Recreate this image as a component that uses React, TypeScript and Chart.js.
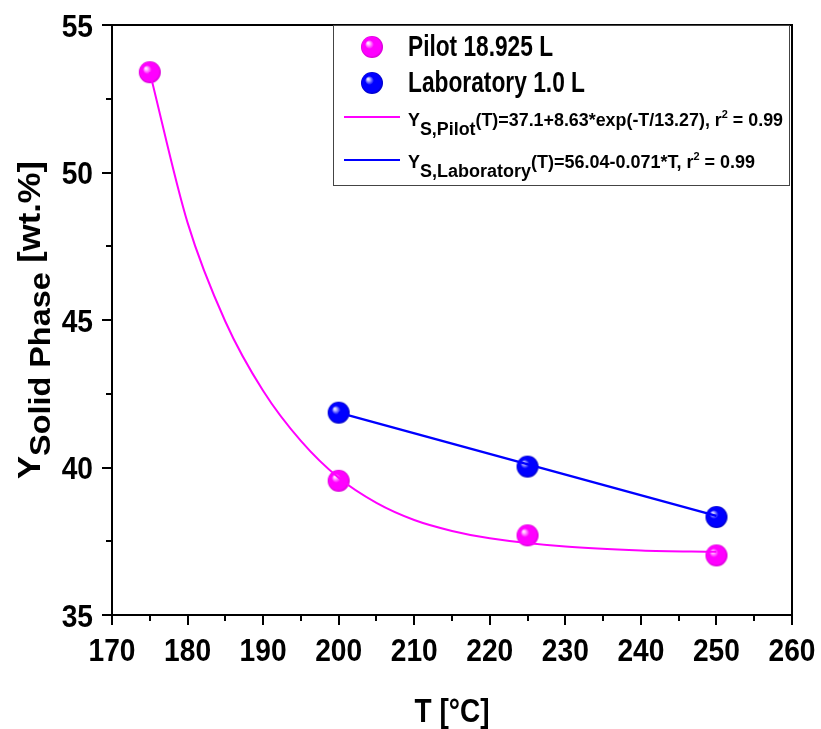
import React, { useEffect, useRef } from "react";
import { Chart, registerables } from "chart.js";

Chart.register(...registerables);

// ---------- data ----------
const pilotT = [175, 200, 225, 250];
const pilotY = [53.4, 39.55, 37.7, 37.02];

const labT = [200, 225, 250];
const labY = [41.86, 40.03, 38.32];

// fitted curve, values
const pilotFitT = [175, 180, 185, 190, 195, 200, 205, 210, 215, 220, 230, 240, 250];
const pilotFitY = [53.4, 48.3, 44.95, 42.6, 40.9, 39.65, 38.8, 38.22, 37.85, 37.6, 37.32, 37.19, 37.14];

const labFitT = [200, 250];
const labFitY = [41.86, 38.36];

const xTicks = [170, 180, 190, 200, 210, 220, 230, 240, 250, 260];
const yTicks = [35, 40, 45, 50, 55];
const xMinor = [175, 185, 195, 205, 215, 225, 235, 245, 255];
const yMinor = [37.5, 42.5, 47.5, 52.5];

const legendPilot = "Pilot 18.925 L";
const legendLab = "Laboratory 1.0 L";
const eqPilot = ["Y", "S,Pilot", "(T)=37.1+8.63*exp(-T/13.27), r", "2", " = 0.99"];
const eqLab = ["Y", "S,Laboratory", "(T)=56.04-0.071*T, r", "2", " = 0.99"];
const xTitle = "T [°C]";
const yTitle = ["Y", "Solid Phase", " [wt.%]"];

const FONT = "'Liberation Sans', Arial, sans-serif";
const MAGENTA = "#ff00ff";
const BLUE = "#0000ff";

function makeSphere(r: number, base: string, dark: string, light: string) {
  const c = document.createElement("canvas");
  const s = Math.ceil(2 * r + 2);
  c.width = s;
  c.height = s;
  const ctx = c.getContext("2d")!;
  const cx = s / 2, cy = s / 2;
  const g = ctx.createRadialGradient(cx - 0.38 * r, cy - 0.38 * r, 0, cx, cy, r);
  g.addColorStop(0, "#ffffff");
  g.addColorStop(0.14, light);
  g.addColorStop(0.4, base);
  g.addColorStop(0.85, base);
  g.addColorStop(1, dark);
  ctx.fillStyle = g;
  ctx.beginPath();
  ctx.arc(cx, cy, r, 0, Math.PI * 2);
  ctx.fill();
  return c;
}

type Seg = { t: string; size: number; dy: number };

function richWidth(ctx: CanvasRenderingContext2D, segs: Seg[]) {
  let w = 0;
  for (const s of segs) {
    ctx.font = `bold ${s.size}px ${FONT}`;
    w += ctx.measureText(s.t).width;
  }
  return w;
}

// draws rich text compressed horizontally to fit target width; align: 'left' | 'center' | 'right'
function drawFit(ctx: CanvasRenderingContext2D, segs: Seg[], x: number, y: number, targetW: number, align = "left", sx?: number) {
  const natural = richWidth(ctx, segs);
  const k = sx ?? targetW / natural;
  const w = natural * k;
  let start = x;
  if (align === "center") start = x - w / 2;
  if (align === "right") start = x - w;
  ctx.save();
  ctx.translate(start, y);
  ctx.scale(k, 1);
  ctx.textAlign = "left";
  ctx.textBaseline = "alphabetic";
  let cx = 0;
  for (const s of segs) {
    ctx.font = `bold ${s.size}px ${FONT}`;
    ctx.fillText(s.t, cx, s.dy);
    cx += ctx.measureText(s.t).width;
  }
  ctx.restore();
}

export default function App() {
  const ref = useRef<HTMLCanvasElement | null>(null);

  useEffect(() => {
    document.body.style.margin = "0";
    const canvas = ref.current!;
    const pilotSphere = makeSphere(11, MAGENTA, "#d000d0", "#ffb8ff");
    const labSphere = makeSphere(11, BLUE, "#0000c0", "#b8b8ff");

    const decor = {
      id: "decor",
      afterDraw(chart: any) {
        const ctx: CanvasRenderingContext2D = chart.ctx;
        const a = chart.chartArea;
        const xs = chart.scales.x;
        const ys = chart.scales.y;
        ctx.save();
        // frame top & right
        ctx.strokeStyle = "#000";
        ctx.lineWidth = 2;
        ctx.beginPath();
        ctx.moveTo(a.left - 1, a.top);
        ctx.lineTo(a.right, a.top);
        ctx.lineTo(a.right, a.bottom);
        ctx.stroke();
        // minor ticks
        ctx.beginPath();
        for (const v of xMinor) {
          const px = Math.round(xs.getPixelForValue(v));
          ctx.moveTo(px, a.bottom);
          ctx.lineTo(px, a.bottom + 6);
        }
        for (const v of yMinor) {
          const py = Math.round(ys.getPixelForValue(v));
          ctx.moveTo(a.left, py);
          ctx.lineTo(a.left - 6, py);
        }
        ctx.stroke();

        // tick labels
        ctx.fillStyle = "#000";
        const tickSize = 32;
        ctx.font = `bold ${tickSize}px ${FONT}`;
        const tk = 47 / ctx.measureText("170").width;
        for (const v of xTicks) {
          const px = xs.getPixelForValue(v);
          drawFit(ctx, [{ t: String(v), size: tickSize, dy: 0 }], px, a.bottom + 46, 0, "center", tk);
        }
        for (const v of yTicks) {
          const py = ys.getPixelForValue(v);
          drawFit(ctx, [{ t: String(v), size: tickSize, dy: 0 }], a.left - 19, py + 11.5, 0, "right", tk);
        }

        // legend box
        const lx = 333, ly = 25, lw = 456, lh = 160;
        ctx.fillStyle = "#fff";
        ctx.fillRect(lx, ly, lw, lh);
        ctx.lineWidth = 1;
        ctx.strokeStyle = "#444";
        ctx.strokeRect(lx + 0.5, ly + 0.5, lw, lh);
        ctx.fillStyle = "#000";
        ctx.drawImage(pilotSphere, 372 - pilotSphere.width / 2, 47 - pilotSphere.height / 2);
        ctx.drawImage(labSphere, 372 - labSphere.width / 2, 83 - labSphere.height / 2);
        drawFit(ctx, [{ t: legendPilot, size: 29, dy: 0 }], 408, 56, 145);
        drawFit(ctx, [{ t: legendLab, size: 29, dy: 0 }], 408, 92, 177);
        ctx.lineWidth = 2;
        ctx.strokeStyle = MAGENTA;
        ctx.beginPath();
        ctx.moveTo(344, 117);
        ctx.lineTo(400, 117);
        ctx.stroke();
        ctx.strokeStyle = BLUE;
        ctx.beginPath();
        ctx.moveTo(344, 160);
        ctx.lineTo(400, 160);
        ctx.stroke();
        const eqSegs = (p: string[]): Seg[] => [
          { t: p[0], size: 18, dy: 0 },
          { t: p[1], size: 18, dy: 9 },
          { t: p[2], size: 18, dy: 0 },
          { t: p[3], size: 11, dy: -8 },
          { t: p[4], size: 18, dy: 0 },
        ];
        drawFit(ctx, eqSegs(eqPilot), 408, 126, 375);
        drawFit(ctx, eqSegs(eqLab), 408, 168, 347);

        // x title
        drawFit(ctx, [{ t: xTitle, size: 33, dy: 0 }], (a.left + a.right) / 2, 722, 75, "center");

        // y title
        ctx.save();
        ctx.translate(40, (a.top + a.bottom) / 2);
        ctx.rotate(-Math.PI / 2);
        drawFit(ctx, [
          { t: yTitle[0], size: 32, dy: 0 },
          { t: yTitle[1], size: 30, dy: 10 },
          { t: yTitle[2], size: 32, dy: 0 },
        ], 0, 0, 318, "center");
        ctx.restore();
        ctx.restore();
      },
    };

    const chart = new Chart(canvas, {
      type: "scatter",
      data: {
        datasets: [
          {
            label: "Pilot fit",
            data: pilotFitT.map((t, i) => ({ x: t, y: pilotFitY[i] })),
            showLine: true,
            borderColor: MAGENTA,
            borderWidth: 2,
            pointRadius: 0,
            cubicInterpolationMode: "monotone",
            order: 0,
          },
          {
            label: "Laboratory fit",
            data: labFitT.map((t, i) => ({ x: t, y: labFitY[i] })),
            showLine: true,
            borderColor: BLUE,
            borderWidth: 2.5,
            pointRadius: 0,
            order: 0,
          },
          {
            label: legendPilot,
            data: pilotT.map((t, i) => ({ x: t, y: pilotY[i] })),
            pointStyle: pilotSphere as any,
            pointRadius: 11,
            order: 1,
          },
          {
            label: legendLab,
            data: labT.map((t, i) => ({ x: t, y: labY[i] })),
            pointStyle: labSphere as any,
            pointRadius: 11,
            order: 1,
          },
        ],
      } as any,
      options: {
        animation: false,
        responsive: false,
        maintainAspectRatio: false,
        layout: { padding: { top: 25, right: 29, left: 0, bottom: 0 } },
        plugins: {
          legend: { display: false },
          tooltip: { enabled: false },
        },
        scales: {
          x: {
            type: "linear",
            min: 170,
            max: 260,
            afterBuildTicks: (s: any) => {
              s.ticks = xTicks.map((v) => ({ value: v }));
            },
            afterFit: (s: any) => {
              s.height = 114;
            },
            ticks: { display: false },
            grid: {
              drawOnChartArea: false,
              drawTicks: true,
              tickLength: 10,
              tickColor: "#000",
              lineWidth: 2,
            },
            border: { display: true, color: "#000", width: 2 },
          },
          y: {
            type: "linear",
            min: 35,
            max: 55,
            afterBuildTicks: (s: any) => {
              s.ticks = yTicks.map((v) => ({ value: v }));
            },
            afterFit: (s: any) => {
              s.width = 112;
            },
            ticks: { display: false },
            grid: {
              drawOnChartArea: false,
              drawTicks: true,
              tickLength: 10,
              tickColor: "#000",
              lineWidth: 2,
            },
            border: { display: true, color: "#000", width: 2 },
          },
        },
      } as any,
      plugins: [decor],
    });
    return () => chart.destroy();
  }, []);

  return (
    <div style={{ width: 821, height: 729 }}>
      <canvas ref={ref} width={821} height={729} style={{ display: "block" }} />
    </div>
  );
}
